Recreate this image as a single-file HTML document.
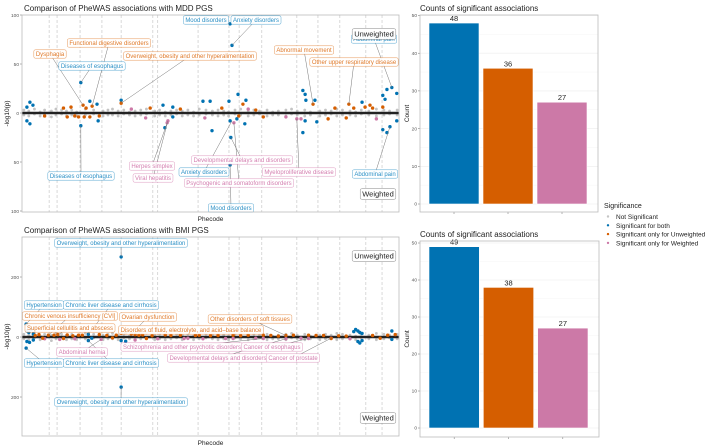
<!DOCTYPE html>
<html><head><meta charset="utf-8">
<style>
html,body{margin:0;padding:0;background:#fff;}
svg{display:block;font-family:"Liberation Sans",sans-serif;}
</style></head>
<body>
<svg id="fig" width="720" height="448" viewBox="0 0 720 448" xmlns="http://www.w3.org/2000/svg"></svg>
<script>
// ---------- DATA ----------
const categoryBounds = [72,93,154,212,263,347,360,467,549,576,636,729,785,843,912,955];
// MDD panel highlighted points (phecode 0-1000, signed -log10 p; + unweighted, - weighted)
const mddPhe = [21,29,13,156,180,199,162,186,263,263,552,557,480,499,549,573,594,586,745,751,753,772,777,867,902,981,968,994,957,963,957,923,374,400,
  13,21,156,202,180,165,379,385,387,400,504,554,552,552,570,591,575,562,729,745,751,740,782,957,968,976,994,940,812,485,328,120,140,60,640,700,
  110,130,150,170,205,290,340,420,530,600,620,830,860,880,910,930];
const mddVal = [11,8,6,31,12,9,8,7,13,10,91,69,12,12,12,19,13,9,23,19,13,9,13,9,11,26,24,20,18,14,6,8,8,6,
  -8,-11,-13,-8,-4,-4,-15,-10,-8,-4,-18,-25,-53,-8,-6,-11,-3,-10,-6,-20,-8,-6,-9,-17,-20,-14,-8,-6,-6,-5,-5,-4,-3,-3,-4,-4,
  5,6,-4,5,-3,4,5,4,5,4,3,5,-5,5,6,5];
const mddCat = ["b","b","b","b","b","b","o","o","b","o","b","b","b","b","b","b","b","o","b","b","b","o","b","o","b","b","b","b","b","b","o","o","b","b",
  "b","b","b","b","o","o","b","p","p","b","b","b","b","b","b","b","o","p","p","b","b","p","b","b","b","b","b","p","o","p","p","o","o","o","o","p",
  "o","o","o","o","o","p","o","o","o","p","o","o","o","o","o","o"];
// BMI panel highlighted points
const bmiPhe = [11,13,18,24,30,45,70,95,120,150,176,205,250,263,263,275,290,300,320,380,420,470,520,600,640,700,760,800,880,885,891,896,902,981,990,
  11,13,20,30,60,100,140,176,210,263,263,275,300,360,430,480,560,640,700,760,820,870,891,896,902,981,
  35,55,85,110,135,160,185,225,240,310,330,345,395,440,460,500,540,560,580,620,660,680,720,740,780,820,840,860,930,950,970];
const bmiVal = [43,20,15,25,10,8,6,8,7,6,9,8,6,267,12,14,10,8,7,7,6,6,5,6,6,5,6,5,18,25,20,15,12,20,8,
  -37,-15,-18,-10,-6,-8,-6,-12,-8,-167,-12,-14,-10,-6,-5,-6,-5,-5,-6,-5,-4,-6,-15,-20,-12,-8,
  5,-4,6,-5,4,6,-4,5,-3,6,-5,4,5,-4,5,4,-5,6,4,-4,5,3,6,-4,5,-5,4,3,5,-4,6];
const bmiCat = ["b","b","b","b","b","o","o","o","o","o","b","o","o","b","o","o","o","o","o","o","o","o","o","o","o","o","o","o","b","b","b","b","b","b","o",
  "b","b","b","b","p","p","p","b","p","b","b","b","p","p","p","p","p","p","p","p","p","p","b","b","b","b",
  "o","o","o","o","o","o","b","o","o","o","o","o","o","p","o","o","p","o","o","p","o","o","o","p","o","o","o","o","o","o","o"];
// non-significant points
const greyPhe = [5,18,33,48,60,78,90,105,118,132,145,168,190,215,228,240,255,270,285,300,315,330,352,365,380,395,410,425,440,455,470,488,505,520,535,548,565,580,600,615,630,650,665,680,700,715,730,750,765,790,805,820,835,850,870,885,900,920,940,960,975,995];
const greyUp = [3,2,4,1,3,2,4,3,2,3,1,4,3,2,3,4,2,3,1,2,3,4,2,3,1,2,3,2,3,1,4,3,2,3,2,1,3,4,2,3,2,3,1,2,3,4,2,3,1,2,3,2,4,3,2,1,3,2,4,3,2,3];
const greyDn = [2,3,1,3,2,4,2,1,3,2,3,2,1,3,2,2,3,1,2,3,2,1,3,2,3,2,1,3,2,3,2,1,2,3,2,3,1,2,3,2,1,3,2,2,3,1,2,3,2,3,2,1,3,2,2,3,1,2,3,2,1,2];
// bar charts
const barCategories = ["Significant for both","Significant only for Unweighted","Significant only for Weighted"];
const mddCounts = [48,36,27];
const bmiCounts = [49,38,27];
const barTicks = [0,10,20,30,40,50];
const mddTicks = [100,50,0,50,100];
const mddTickVals = [100,50,0,-50,-100];
const bmiTicks = [200,0,200];
const bmiTickVals = [200,0,-200];

// ---------- HELPERS ----------
const NS="http://www.w3.org/2000/svg";
const svg=document.getElementById('fig');
function mk(tag,attrs,parent){const e=document.createElementNS(NS,tag);for(const k in attrs)e.setAttribute(k,attrs[k]);(parent||svg).appendChild(e);return e;}
function txt(s,attrs,parent){const e=mk('text',attrs,parent);e.textContent=s;return e;}
const COL={b:"#0072B2",o:"#D55E00",p:"#CC79A7",g:"#c4c4c4"};
const LCOL={b:"#2b90c6",o:"#e07a2a",p:"#d47fb0"};

function manhattan(cfg){
  const {x0,x1,y0,y1,zeroY,scale,title,ticks,tickVals,phe,val,cat,labels,tag}=cfg;
  const X=p=>x0+p/1000*(x1-x0);
  const Y=v=>zeroY-v*scale;
  const g=mk('g',{});
  
  
  const t=txt(title,{x:x0+2,y:y0-4,'font-size':8,fill:'#222'},g);
  
  categoryBounds.forEach(c=>{const l=mk('line',{x1:X(c),x2:X(c),y1:y0,y2:y1,stroke:'#c8c8c8','stroke-width':0.7,'stroke-dasharray':'3,2'},g);
    });
  ticks.forEach((s,i)=>{const yy=Y(tickVals[i]);
    const tl=txt(s,{x:x0-3,y:yy+1.8,'font-size':4.8,fill:'#555','text-anchor':'end'},g);
    
    mk('line',{x1:x0-2,x2:x0,y1:yy,y2:yy,stroke:'#666','stroke-width':0.5},g);});
  const yl=txt('-log10(p)',{x:0,y:0,'font-size':6.5,fill:'#222','text-anchor':'middle',transform:`translate(9,${(y0+y1)/2}) rotate(-90)`},g);
  
  const xl=txt('Phecode',{x:(x0+x1)/2,y:y1+9,'font-size':6.5,fill:'#222','text-anchor':'middle'},g);
  
  const clip=mk('clipPath',{id:'clip'+tag},g);mk('rect',{x:x0,y:y0,width:x1-x0,height:y1-y0},clip);
  const pts=mk('g',{'clip-path':`url(#clip${tag})`},g);
  greyPhe.forEach((p,i)=>{
    [greyUp[i],-greyDn[i]].forEach(v=>{const c=mk('circle',{cx:X(p),cy:Y(v*(tag==='bmi'?3:1)),r:1.4,fill:COL.g},pts);
      });
  });
  labels.forEach(L=>{if(L.p!==undefined){const ln=mk('line',{x1:L.x,x2:X(L.p),y1:L.y,y2:Y(L.v),stroke:'#777','stroke-width':0.5},g);
    }});
  const zl=mk('line',{x1:x0,x2:x1,y1:zeroY,y2:zeroY,stroke:'#222','stroke-width':2.6},pts);
  
  phe.forEach((p,i)=>{const c=mk('circle',{cx:X(p),cy:Y(val[i]),r:1.7,fill:COL[cat[i]]},pts);
    });
  labels.forEach(L=>{
    const lg=mk('g',{},g);
    
    const fs=L.c==='k'?7.5:6;
    const r=mk('rect',{rx:1.5,fill:'rgba(255,255,255,0.92)',stroke:L.c==='k'?'#666':LCOL[L.c],'stroke-width':0.5,'stroke-opacity':0.8},lg);
    const tt=txt(L.s,{x:L.x,y:L.y+fs*0.35,'font-size':fs,fill:L.c==='k'?'#222':LCOL[L.c],'text-anchor':'middle'},lg);
    const w=tt.getComputedTextLength();
    r.setAttribute('x',L.x-w/2-2);r.setAttribute('y',L.y-fs*0.7);r.setAttribute('width',w+4);r.setAttribute('height',fs*1.4);
  });
  const fr=mk('rect',{x:x0,y:y0,width:x1-x0,height:y1-y0,fill:'none',stroke:'#bbb','stroke-width':0.8},g);
  
}

function bars(cfg){
  const {x0,x1,y0,y1,zeroY,top50,counts,tag}=cfg;
  const Y=v=>zeroY-(zeroY-top50)*v/50;
  const g=mk('g',{});
  
  const t=txt('Counts of significant associations',{x:x0,y:y0-4,'font-size':8,fill:'#222'},g);
  
  barTicks.forEach(v=>{mk('line',{x1:x0,x2:x1,y1:Y(v),y2:Y(v),stroke:'#ececec','stroke-width':0.6},g);
    if(v<50)mk('line',{x1:x0,x2:x1,y1:Y(v+5),y2:Y(v+5),stroke:'#f5f5f5','stroke-width':0.5},g);
    const tl=txt(String(v),{x:x0-3,y:Y(v)+1.7,'font-size':4.8,fill:'#555','text-anchor':'end'},g);
    
    mk('line',{x1:x0-2,x2:x0,y1:Y(v),y2:Y(v),stroke:'#666','stroke-width':0.5},g);});
  const yl=txt('Count',{x:0,y:0,'font-size':6.5,fill:'#222','text-anchor':'middle',transform:`translate(409,${(y0+y1)/2}) rotate(-90)`},g);
  
  const cols=[COL.b,COL.o,COL.p];
  const band=(x1-x0-16)/3;
  counts.forEach((c,i)=>{
    const bx=x0+8+i*band+1, bw=band-4;
    const r=mk('rect',{x:bx,y:Y(c),width:bw,height:zeroY-Y(c),fill:cols[i],stroke:'#fff','stroke-width':0.6},g);
    
    const vl=txt(String(c),{x:bx+bw/2,y:Y(c)-2,'font-size':7.5,fill:'#222','text-anchor':'middle'},g);
    
    mk('line',{x1:bx+bw/2,x2:bx+bw/2,y1:y1,y2:y1+2,stroke:'#666','stroke-width':0.5},g);
  });
  const fr=mk('rect',{x:x0,y:y0,width:x1-x0,height:y1-y0,fill:'none',stroke:'#bbb','stroke-width':0.8},g);
  
}

// ---------- DRAW ----------
manhattan({x0:22,x1:399,y0:15,y1:212,zeroY:113,scale:0.98,tag:'mdd',
  title:'Comparison of PheWAS associations with MDD PGS',ticks:mddTicks,tickVals:mddTickVals,
  phe:mddPhe,val:mddVal,cat:mddCat,
  labels:[
   {s:'Mood disorders',c:'b',x:206,y:20,p:552,v:91},
   {s:'Anxiety disorders',c:'b',x:256,y:20,p:557,v:69},
   {s:'Abdominal pain',c:'b',x:374,y:39,p:981,v:26},
   {s:'Unweighted',c:'k',x:374,y:34},
   {s:'Functional digestive disorders',c:'o',x:109,y:43,p:186,v:7},
   {s:'Dysphagia',c:'o',x:50,y:54,p:162,v:8},
   {s:'Overweight, obesity and other hyperalimentation',c:'o',x:190,y:56,p:263,v:10},
   {s:'Diseases of esophagus',c:'b',x:92,y:66,p:156,v:31},
   {s:'Abnormal movement',c:'o',x:304,y:50,p:772,v:9},
   {s:'Other upper respiratory disease',c:'o',x:354,y:62,p:867,v:9},
   {s:'Herpes simplex',c:'p',x:152,y:166,p:385,v:-10},
   {s:'Viral hepatitis',c:'p',x:153,y:178,p:387,v:-8},
   {s:'Developmental delays and disorders',c:'p',x:242,y:160,p:554,v:-25},
   {s:'Anxiety disorders',c:'b',x:204,y:172,p:557,v:-8},
   {s:'Myeloproliferative disease',c:'p',x:299,y:172,p:729,v:-6},
   {s:'Psychogenic and somatoform disorders',c:'p',x:239,y:183,p:562,v:-10},
   {s:'Diseases of esophagus',c:'b',x:81,y:176,p:156,v:-13},
   {s:'Abdominal pain',c:'b',x:375,y:174,p:976,v:-14},
   {s:'Weighted',c:'k',x:378,y:194},
   {s:'Mood disorders',c:'b',x:231,y:208,p:552,v:-53}
  ]});
manhattan({x0:22,x1:399,y0:237,y1:436,zeroY:337,scale:0.3,tag:'bmi',
  title:'Comparison of PheWAS associations with BMI PGS',ticks:bmiTicks,tickVals:bmiTickVals,
  phe:bmiPhe,val:bmiVal,cat:bmiCat,
  labels:[
   {s:'Overweight, obesity and other hyperalimentation',c:'b',x:121,y:243,p:263,v:267},
   {s:'Unweighted',c:'k',x:374,y:256},
   {s:'Hypertension',c:'b',x:44,y:305,p:11,v:43},
   {s:'Chronic liver disease and cirrhosis',c:'b',x:111,y:305,p:176,v:9},
   {s:'Chronic venous insufficiency [CVI]',c:'o',x:70,y:316,p:70,v:6},
   {s:'Ovarian dysfunction',c:'o',x:148,y:317,p:290,v:10},
   {s:'Superficial cellulitis and abscess',c:'o',x:70,y:328,p:95,v:8},
   {s:'Other disorders of soft tissues',c:'o',x:250,y:319,p:700,v:5},
   {s:'Disorders of fluid, electrolyte, and acid\u2013base balance',c:'o',x:191,y:330,p:275,v:14},
   {s:'Schizophrenia and other psychotic disorders',c:'p',x:182,y:347,p:640,v:-5},
   {s:'Abdominal hernia',c:'p',x:82,y:352,p:210,v:-8},
   {s:'Cancer of esophagus',c:'p',x:272,y:347,p:760,v:-5},
   {s:'Developmental delays and disorders',c:'p',x:218,y:358,p:700,v:-6},
   {s:'Cancer of prostate',c:'p',x:293,y:358,p:820,v:-4},
   {s:'Hypertension',c:'b',x:44,y:363,p:11,v:-37},
   {s:'Chronic liver disease and cirrhosis',c:'b',x:111,y:363,p:176,v:-12},
   {s:'Overweight, obesity and other hyperalimentation',c:'b',x:121,y:402,p:263,v:-167},
   {s:'Weighted',c:'k',x:378,y:418}
  ]});
bars({x0:420,x1:598,y0:15,y1:212,zeroY:204,top50:15.5,counts:mddCounts,tag:'mdd'});
bars({x0:420,x1:599,y0:241,y1:437,zeroY:428,top50:243,counts:bmiCounts,tag:'bmi'});

// legend
const lg=mk('g',{});

txt('Significance',{x:604,y:208,'font-size':7,fill:'#222'},lg);
const legNames=['Not Significant'].concat(barCategories);
const legCols=[COL.g,COL.b,COL.o,COL.p];
legNames.forEach((n,i)=>{
  const y=217+i*8.8;
  const e=mk('g',{},lg);
  
  
  mk('circle',{cx:608,cy:y-0.5,r:1.2,fill:legCols[i]},e);
  txt(n,{x:616,y:y+2,'font-size':6.5,fill:'#222'},e);
});
</script>
</body></html>
